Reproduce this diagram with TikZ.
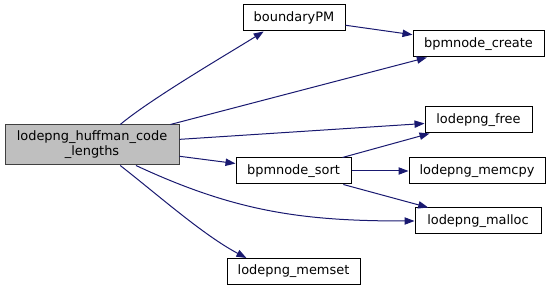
\documentclass[tikz,border=0pt]{standalone}
\usepackage{fontspec}
\setmainfont{DejaVu Sans}
\usetikzlibrary{arrows.meta,positioning}
\definecolor{edgeblue}{HTML}{191970}
\definecolor{hlfill}{HTML}{BFBFBF}
\definecolor{hldraw}{HTML}{404040}

\begin{document}
\begin{tikzpicture}[
  x=0.75pt, y=-0.75pt,
  font=\fontsize{9.7}{11.3}\selectfont,
  >={Triangle[length=7.5pt,width=5.5pt]},
  fn/.style={draw=black, line width=0.75pt, fill=white, inner sep=0pt, minimum height=19.5pt, align=center},
  caller/.style={fn, fill=hlfill, draw=hldraw, minimum width=130.5pt, minimum height=30pt},
  call/.style={->, draw=edgeblue, line width=0.75pt},
]
\useasboundingbox (0,0) rectangle (553,291);

% the function whose calls are shown
\node[caller] (HCL) at (92,145) {lodepng\_huffman\_code\\\_lengths};

% callees
\node[fn, minimum width=76.5pt]  (BPM)  at (294,18)    {boundaryPM};
\node[fn, minimum width=98.25pt] (CRE)  at (478.5,44)  {bpmnode\_create};
\node[fn, minimum width=80.25pt] (FREE) at (478.5,120) {lodepng\_free};
\node[fn, minimum width=86.25pt] (SORT) at (293.5,171) {bpmnode\_sort};
\node[fn, minimum width=102pt]   (CPY)  at (477,171)   {lodepng\_memcpy};
\node[fn, minimum width=94.5pt]  (MAL)  at (478,221)   {lodepng\_malloc};
\node[fn, minimum width=99.75pt] (SET)  at (293.5,271.5) {lodepng\_memset};

% calls from lodepng_huffman_code_lengths
\draw[call] (HCL.36) to[out=40,in=212,looseness=0.6] (BPM.204);
\draw[call] (HCL) -- (CRE);
\draw[call] (HCL) -- (FREE);
\draw[call] (HCL) -- (SORT);
\draw[call] (HCL.-25) to[out=-25,in=180] (MAL.west);
\draw[call] (HCL.-36) to[out=-38,in=152,looseness=0.8] (SET.164);

% calls from boundaryPM and bpmnode_sort
\draw[call] (BPM) -- (CRE);
\draw[call] (SORT) -- (FREE);
\draw[call] (SORT) -- (CPY);
\draw[call] (SORT) -- (MAL);

\end{tikzpicture}
\end{document}
